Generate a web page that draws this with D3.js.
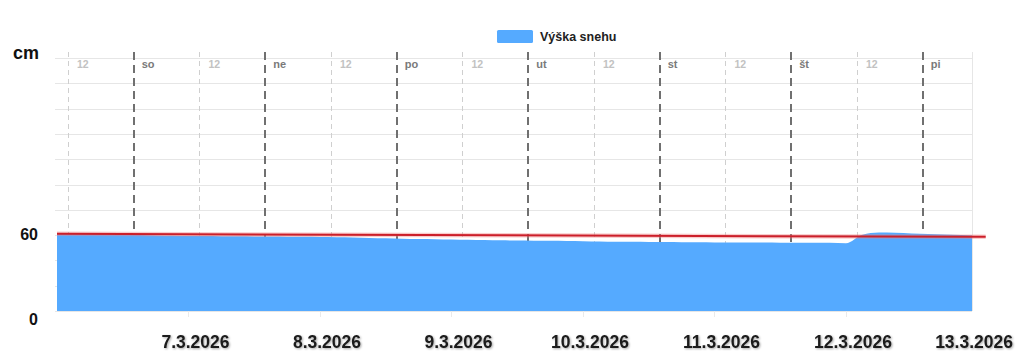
<!DOCTYPE html>
<html><head><meta charset="utf-8">
<script src="https://cdn.jsdelivr.net/npm/d3@7"></script>
<style>
html,body{margin:0;padding:0;background:#fff;}
svg{display:block;font-family:"Liberation Sans",Arial,sans-serif;}
</style></head>
<body>
<svg id="c" width="1024" height="358"></svg>
<script>
// ---- data ----
const seriesName = "Výška snehu";
const startTime = Date.UTC(2026, 2, 6, 10);   // 6.3.2026 10:00
const endTime = Date.UTC(2026, 2, 13, 9);     // 13.3.2026 09:00
const stepHours = 3;
const snowDepth = [61.5,61.2,61.0,60.6,60.3,60.0,59.7,59.5,59.3,59.2,59.1,59.0,58.9,58.8,58.7,58.6,58.5,58.3,58.1,57.8,57.5,57.2,57.0,56.8,56.5,56.3,56.1,55.9,55.7,55.6,55.5,55.4,55.2,55.0,54.8,54.7,54.6,54.5,54.4,54.3,54.2,54.2,54.1,54.1,54.0,54.0,54.0,53.9,53.5,60.2,62.0,61.8,61.3,60.8,60.4,60.0,59.6];
const trendTimes = [Date.UTC(2026, 2, 6, 10), Date.UTC(2026, 2, 13, 11, 30)];
const trendValues = [61.0, 58.6];
const yTicks = [0, 20, 40, 60, 80, 100, 120, 140, 160, 180, 200];
const yLabels = [0, 60];
const dayNames = ["so", "ne", "po", "ut", "st", "št", "pi"];
const noonLabel = "12";
const dateLabels = ["7.3.2026","8.3.2026","9.3.2026","10.3.2026","11.3.2026","12.3.2026","13.3.2026"];

// ---- layout ----
const svg = d3.select("#c");
const L = 57, R = 972, T = 58, B = 311, lineTop = 52;
const x = d3.scaleUtc().domain([startTime, endTime]).range([L, R]);
const y = d3.scaleLinear().domain([0, 200]).range([B, T]);
const H = 3600e3;

// grid
svg.append("g").selectAll("line").data(yTicks).join("line")
  .attr("x1", L - 2).attr("x2", R).attr("y1", d => Math.round(y(d)) + 0.5).attr("y2", d => Math.round(y(d)) + 0.5)
  .attr("stroke", "#e6e6e6").attr("stroke-width", 1);
svg.append("line").attr("x1", R + 0.5).attr("x2", R + 0.5).attr("y1", lineTop).attr("y2", B)
  .attr("stroke", "#e6e6e6");

// midnights & noons
const midnights = dayNames.map((d, i) => Date.UTC(2026, 2, 7 + i));
const noons = d3.range(7).map(i => Date.UTC(2026, 2, 6 + i, 12));

svg.append("g").selectAll("line").data(noons).join("line")
  .attr("x1", d => Math.round(x(d)) + 0.5).attr("x2", d => Math.round(x(d)) + 0.5)
  .attr("y1", lineTop).attr("y2", B)
  .attr("stroke", "#cfcfcf").attr("stroke-width", 1).attr("stroke-dasharray", "5,4");
svg.append("g").selectAll("text").data(noons).join("text")
  .attr("x", d => x(d) + 9).attr("y", 68).text(noonLabel)
  .attr("font-size", 10.5).attr("font-weight", "bold").attr("fill", "#c2c2c2");

svg.append("g").selectAll("line").data(midnights).join("line")
  .attr("x1", d => Math.round(x(d))).attr("x2", d => Math.round(x(d)))
  .attr("y1", lineTop).attr("y2", B)
  .attr("stroke", "#707070").attr("stroke-width", 2).attr("stroke-dasharray", "8,5");
svg.append("g").selectAll("text").data(midnights).join("text")
  .attr("x", (d) => x(d) + 8).attr("y", 68).text((d, i) => dayNames[i])
  .attr("font-size", 11).attr("font-weight", "bold").attr("fill", "#7a7a7a");

// area
const pts = snowDepth.map((v, i) => ({t: startTime + i * stepHours * H, v}));
svg.append("clipPath").attr("id", "clip").append("rect").attr("x", L).attr("y", 0).attr("width", R - L).attr("height", B);
svg.append("path").datum(pts).attr("clip-path", "url(#clip)")
  .attr("d", d3.area().x(d => x(d.t)).y0(y(0)).y1(d => y(d.v)).curve(d3.curveMonotoneX))
  .attr("fill", "#55aaff");

// trend line
const trend = trendTimes.map((t, i) => ({t, v: trendValues[i]}));
const tl = d3.line().x(d => x(d.t)).y(d => y(d.v));
svg.append("path").datum(trend).attr("d", tl).attr("fill", "none")
  .attr("stroke", "#f08080").attr("stroke-width", 4.5).attr("opacity", 0.4);
svg.append("path").datum(trend).attr("d", tl).attr("fill", "none")
  .attr("stroke", "#cc1f2a").attr("stroke-width", 2);

// x ticks
const xTicks = dateLabels.map((d, i) => startTime + (i + 1) * 24 * H);
svg.append("g").selectAll("line").data(xTicks.slice(0, 6)).join("line")
  .attr("x1", d => Math.round(x(d)) + 0.5).attr("x2", d => Math.round(x(d)) + 0.5)
  .attr("y1", B).attr("y2", B + 6).attr("stroke", "#eaeaea");

// shadow filter
const f = svg.append("defs").append("filter").attr("id", "sh").attr("x", "-10%").attr("y", "-30%").attr("width", "130%").attr("height", "180%");
f.append("feDropShadow").attr("dx", 1).attr("dy", 1).attr("stdDeviation", 1.2).attr("flood-color", "#000").attr("flood-opacity", 0.35);

const xl = svg.append("g").selectAll("text").data(xTicks).join("text")
  .attr("y", 348).attr("text-anchor", "middle").text((d, i) => dateLabels[i])
  .attr("font-size", 17.5).attr("font-weight", "bold").attr("fill", "#1a1a1a").attr("filter", "url(#sh)");
xl.each(function(d) {
  const w = this.getComputedTextLength();
  const cx = Math.min(x(d) + 7, 1013 - w / 2);
  d3.select(this).attr("x", cx);
});

// y labels
svg.append("text").attr("x", 13).attr("y", 59).text("cm")
  .attr("font-size", 18).attr("font-weight", "bold").attr("fill", "#111");
svg.append("g").selectAll("text").data(yLabels).join("text")
  .attr("x", 38).attr("text-anchor", "end")
  .attr("y", d => d === 0 ? 325 : y(d) + 5).text(d => d)
  .attr("font-size", 16).attr("font-weight", "bold").attr("fill", "#111");

// legend
svg.append("rect").attr("x", 497).attr("y", 30).attr("width", 36).attr("height", 13).attr("rx", 1.5).attr("fill", "#55aaff");
svg.append("text").attr("x", 540).attr("y", 41).text(seriesName)
  .attr("font-size", 12.5).attr("font-weight", "bold").attr("fill", "#222");
</script>
</body></html>
